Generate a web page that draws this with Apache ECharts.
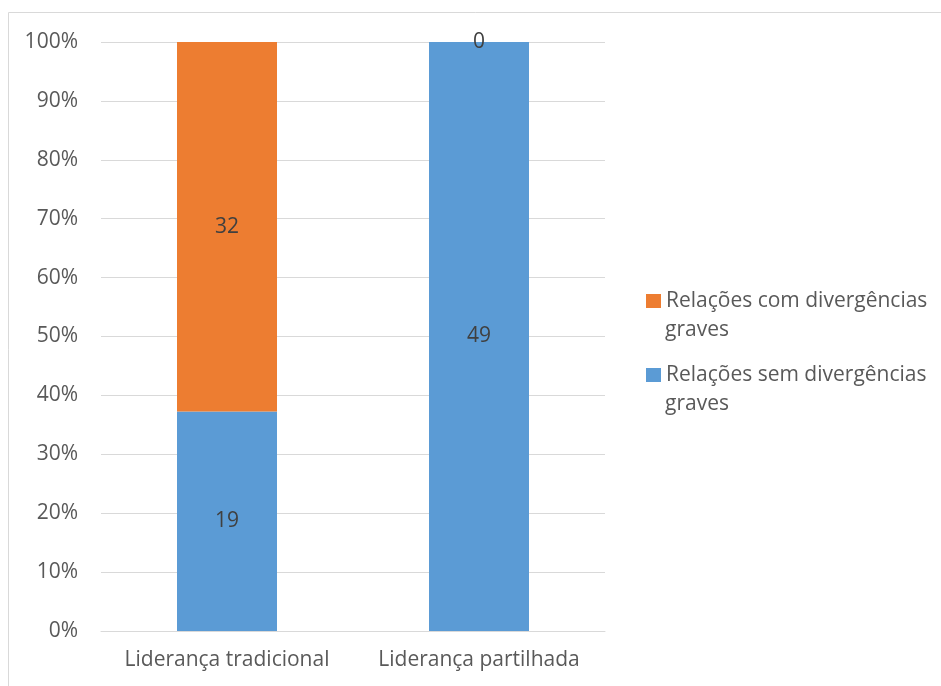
<!DOCTYPE html>
<html><head><meta charset="utf-8">
<script src="https://cdn.jsdelivr.net/npm/echarts@6/dist/echarts.min.js"></script>
<style>html,body{margin:0;padding:0;background:#fff}#c{width:941px;height:686px}</style>
</head><body><div id="c"></div>
<script>
const categories = ['Liderança tradicional', 'Liderança partilhada'];
const semDivergencias = [19, 49];
const comDivergencias = [32, 0];
const yTicks = [0, 10, 20, 30, 40, 50, 60, 70, 80, 90, 100];
const legendNames = ['Relações com divergências graves', 'Relações sem divergências graves'];

const totals = categories.map((_, i) => semDivergencias[i] + comDivergencias[i]);
const pct = arr => arr.map((v, i) => v / totals[i] * 100);

const font = '"Open Sans", "Noto Sans", sans-serif';
const fs = 21;
const chart = echarts.init(document.getElementById('c'));
chart.setOption({
  animation: false,
  graphic: [
    {type: 'rect', shape: {x: 8.5, y: 12.5, width: 1200, height: 1200}, style: {fill: 'none', stroke: '#d9d9d9', lineWidth: 1}, silent: true},
    {type: 'text', x: 665, y: 330.5, style: {text: 'graves', font: fs + 'px ' + font, fill: '#595959', verticalAlign: 'middle'}},
    {type: 'text', x: 665, y: 404.5, style: {text: 'graves', font: fs + 'px ' + font, fill: '#595959', verticalAlign: 'middle'}}
  ],
  grid: {left: 101, right: 336, top: 42, bottom: 55},
  legend: {
    orient: 'vertical', left: 641, top: 282.5, itemWidth: 15, itemHeight: 14, itemGap: 47, icon: 'rect',
    data: legendNames,
    formatter: n => n.replace(' graves', ''),
    textStyle: {fontFamily: font, fontSize: fs, color: '#595959', lineHeight: 27}
  },
  xAxis: {
    type: 'category', data: categories,
    axisLine: {lineStyle: {color: '#d9d9d9'}}, axisTick: {show: false},
    axisLabel: {fontFamily: font, fontSize: fs, color: '#595959', margin: 19, interval: 0}
  },
  yAxis: {
    type: 'value', min: 0, max: 100, interval: 10,
    axisLabel: {fontFamily: font, fontSize: fs, color: '#595959', margin: 23, formatter: v => yTicks.includes(v) ? v + '%' : ''},
    splitLine: {lineStyle: {color: '#d9d9d9'}}, axisLine: {show: false}, axisTick: {show: false}
  },
  series: [
    {name: legendNames[1], type: 'bar', stack: 's', barWidth: 100, data: pct(semDivergencias),
     itemStyle: {color: '#5B9BD5'},
     label: {show: true, position: 'inside', fontFamily: font, fontSize: fs, color: '#404040', formatter: p => semDivergencias[p.dataIndex]}},
    {name: legendNames[0], type: 'bar', stack: 's', barWidth: 100, data: pct(comDivergencias),
     itemStyle: {color: '#ED7D31'},
     label: {show: true, position: 'inside', fontFamily: font, fontSize: fs, color: '#404040', formatter: p => comDivergencias[p.dataIndex]}}
  ]
});
</script></body></html>
